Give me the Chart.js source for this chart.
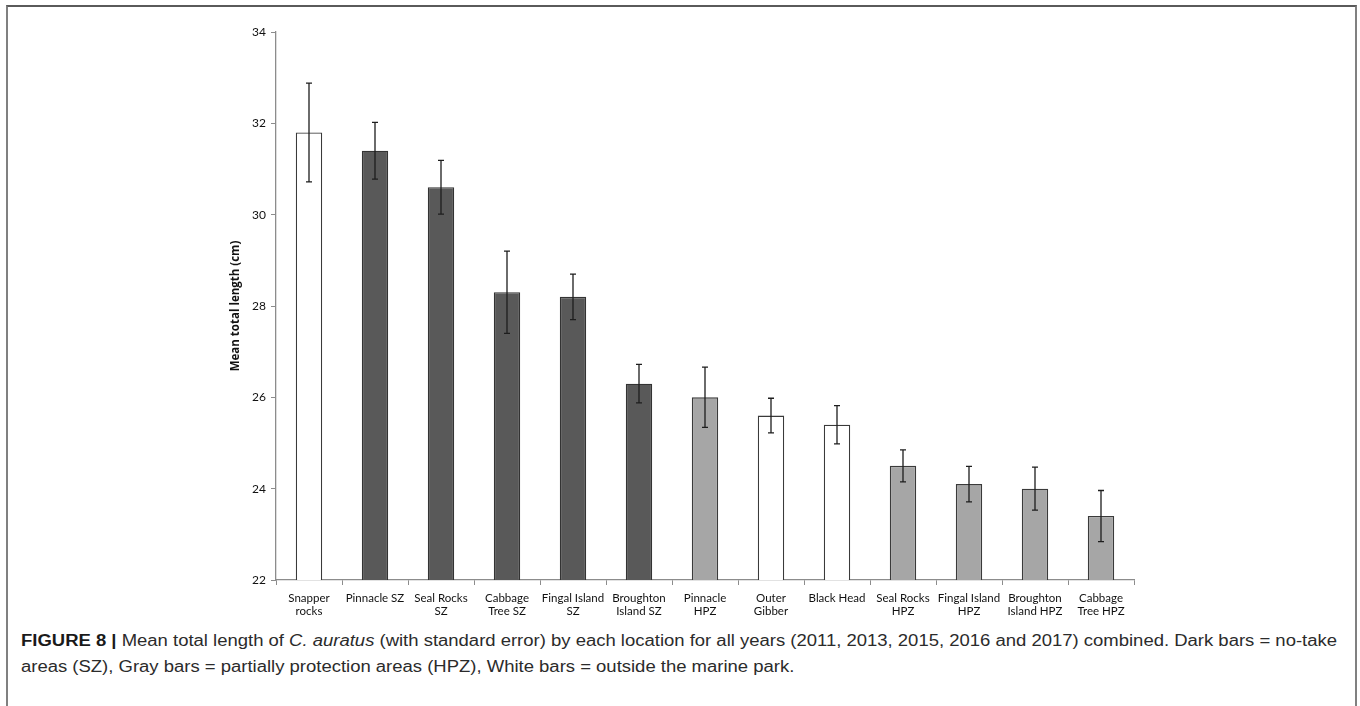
<!DOCTYPE html>
<html>
<head>
<meta charset="utf-8">
<script src="https://cdn.jsdelivr.net/npm/chart.js@4/dist/chart.umd.min.js"></script>
<style>
  html, body { margin: 0; padding: 0; background: #fff; }
  body { width: 1360px; height: 706px; position: relative; overflow: hidden; }
  #frame {
    position: absolute; left: 6px; top: 5px; width: 1347px; height: 720px;
    border-left: 2px solid #808080; border-top: 2px solid #5a5a5a; border-right: 2px solid #808080;
  }
  #wrap { position: absolute; left: 0; top: 0; width: 1360px; height: 620px; }
  .cap {
    position: absolute; left: 21px; white-space: nowrap; transform-origin: 0 50%;
    font-family: "Liberation Sans", Arial, sans-serif;
    font-size: 16px; color: #2b2b2b;
  }
  .cap b { color: #1a1a1a; }
</style>
</head>
<body>
<div id="frame"></div>
<div id="wrap"><canvas id="chart"></canvas></div>
<div class="cap" id="cap1" style="top:632px"><b>FIGURE 8 |</b> Mean total length of <i>C. auratus</i> (with standard error) by each location for all years (2011, 2013, 2015, 2016 and 2017) combined. Dark bars = no-take</div>
<div class="cap" id="cap2" style="top:658px">areas (SZ), Gray bars = partially protection areas (HPZ), White bars = outside the marine park.</div>
<script>
// Locations, in plotted order (two-line labels as arrays)
const locations = [
  ["Snapper", "rocks"], "Pinnacle SZ", ["Seal Rocks", "SZ"], ["Cabbage", "Tree SZ"],
  ["Fingal Island", "SZ"], ["Broughton", "Island SZ"], ["Pinnacle", "HPZ"], ["Outer", "Gibber"],
  "Black Head", ["Seal Rocks", "HPZ"], ["Fingal Island", "HPZ"], ["Broughton", "Island HPZ"],
  ["Cabbage", "Tree HPZ"]
];
// Mean total length (cm)
const meanLength = [31.8, 31.4, 30.6, 28.3, 28.2, 26.3, 26.0, 25.6, 25.4, 24.5, 24.1, 24.0, 23.4];
// Standard error (cm)
const stdError = [1.08, 0.62, 0.59, 0.90, 0.50, 0.42, 0.66, 0.38, 0.42, 0.35, 0.39, 0.47, 0.56];
// Zone of each location: SZ = no-take, HPZ = partial protection, OUT = outside the park
const zones = ["OUT", "SZ", "SZ", "SZ", "SZ", "SZ", "HPZ", "OUT", "OUT", "HPZ", "HPZ", "HPZ", "HPZ"];
// Y-axis ticks
const yTicks = [22, 24, 26, 28, 30, 32, 34];

const zoneFill = { SZ: "#595959", HPZ: "#a6a6a6", OUT: "#ffffff" };
const zoneEdge = { SZ: "#333333", HPZ: "#3a3a3a", OUT: "#3a3a3a" };

// Caption lines are condensed to the figure's text width
(function fitCaption() {
  const line1 = document.getElementById("cap1");
  const line2 = document.getElementById("cap2");
  const k = 1316 / line1.getBoundingClientRect().width;
  line1.style.transform = "scaleX(" + k + ")";
  line2.style.transform = "scaleX(" + k + ")";
})();

// Draws the standard-error whiskers on top of each bar
const errorBars = {
  id: "errorBars",
  afterDatasetsDraw(chart) {
    const { ctx, scales } = chart;
    const meta = chart.getDatasetMeta(0);
    ctx.save();
    ctx.strokeStyle = "#1e1e1e";
    ctx.lineWidth = 1.3;
    meta.data.forEach((bar, i) => {
      const x = bar.x;
      const yHi = scales.y.getPixelForValue(meanLength[i] + stdError[i]);
      const yLo = scales.y.getPixelForValue(meanLength[i] - stdError[i]);
      ctx.beginPath();
      ctx.moveTo(x, yHi); ctx.lineTo(x, yLo);
      ctx.moveTo(x - 3, yHi); ctx.lineTo(x + 3, yHi);
      ctx.moveTo(x - 3, yLo); ctx.lineTo(x + 3, yLo);
      ctx.stroke();
    });
    ctx.restore();
  }
};

const tickFont = { family: "Lato, 'Open Sans', sans-serif", size: 11.5 };

new Chart(document.getElementById("chart"), {
  type: "bar",
  data: {
    labels: locations,
    datasets: [{
      data: meanLength,
      backgroundColor: zones.map(z => zoneFill[z]),
      borderColor: zones.map(z => zoneEdge[z]),
      borderWidth: 1.3,
      barPercentage: 0.4,
      categoryPercentage: 1.0
    }]
  },
  options: {
    responsive: true,
    maintainAspectRatio: false,
    animation: false,
    layout: { padding: { left: 200, right: 226, top: 32, bottom: 0 } },
    plugins: { legend: { display: false }, tooltip: { enabled: false } },
    scales: {
      x: {
        grid: { display: true, drawOnChartArea: false, offset: true, tickLength: 5, color: "#8c8c8c", lineWidth: 1 },
        border: { display: true, color: "#8c8c8c", width: 1.3 },
        ticks: { autoSkip: false, maxRotation: 0, minRotation: 0, color: "#111", font: tickFont, padding: 6 },
        afterFit(scale) { scale.height = 40; }
      },
      y: {
        min: yTicks[0], max: yTicks[yTicks.length - 1],
        afterBuildTicks(scale) { scale.ticks = yTicks.map(v => ({ value: v })); },
        grid: { display: true, drawOnChartArea: false, tickLength: 5, color: "#8c8c8c", lineWidth: 1 },
        border: { display: true, color: "#8c8c8c", width: 1.3 },
        ticks: { color: "#111", font: { family: "Lato, 'Open Sans', sans-serif", size: 12 }, padding: 5 },
        title: {
          display: true, text: "Mean total length (cm)", color: "#111",
          font: { family: "'Open Sans', Lato, sans-serif", size: 11.5, weight: "bold" }, padding: { top: 29, bottom: 0 }
        },
        afterFit(scale) { scale.width = 76; }
      }
    }
  },
  plugins: [errorBars]
});
</script>
</body>
</html>
